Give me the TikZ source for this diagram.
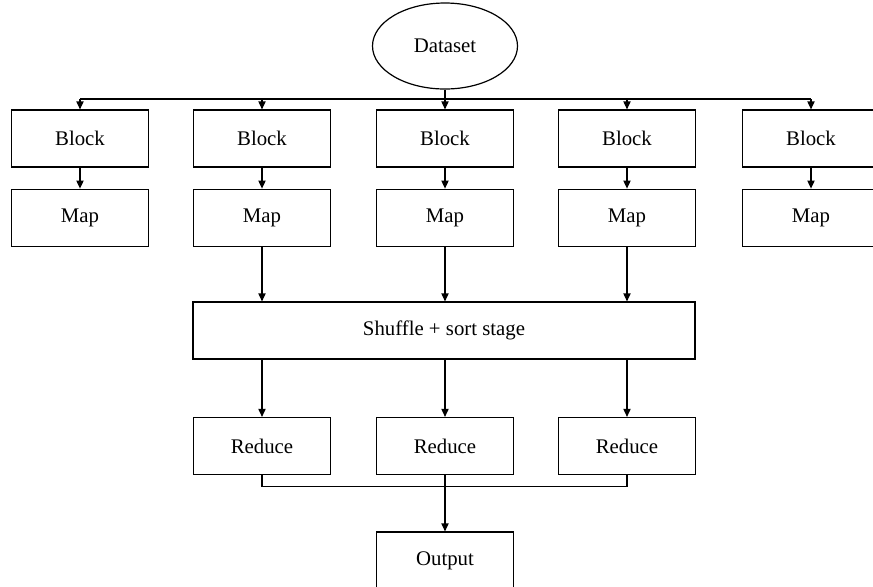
\documentclass[tikz,border=0pt]{standalone}
\usepackage{fontspec}
\setmainfont{Liberation Serif}
\usepackage{tikz}
\usetikzlibrary{arrows.meta}
\usetikzlibrary{shapes.geometric}
\usetikzlibrary{positioning}
\begin{document}
\begin{tikzpicture}[x=0.5pt,y=-0.5pt,
	line width=0.6pt,
	every node/.style={font=\fontsize{10.4}{12}\selectfont},
	box/.style={draw,inner sep=0pt,minimum width=68.5pt,minimum height=28.5pt},
	arr/.style={-{Triangle[length=4pt,width=3.6pt]}}]
	\clip (0,0) rectangle (873,586);
	
	\node[draw,ellipse,inner sep=0pt,minimum width=72.5pt,minimum height=43pt] (ds) at (445,46) {Dataset};
	\coordinate (bus) at (445,99);
	
	\foreach \i/\x in {1/80,2/262,3/445,4/627,5/811}{
		\node[box] (b\i) at (\x,138.5) {Block};
		\node[box,below=10.5pt of b\i] (m\i) {Map};
		\draw[arr] (b\i.north |- bus) -- (b\i.north);
		\draw[arr] (b\i) -- (m\i);
	}
	\draw (ds.south) -- (bus);
	\draw (b1.north |- bus) -- (b5.north |- bus);
	
	\node[box,minimum width=251pt] (sh) at (444,330.5) {Shuffle + sort stage};
	\foreach \i/\x in {1/262,2/445,3/627}{
		\node[box] (r\i) at (\x,446) {Reduce};
		\draw[arr] (r\i.north |- sh.south) -- (r\i);
	}
	\draw[arr] (m2) -- (m2 |- sh.north);
	\draw[arr] (m3) -- (m3 |- sh.north);
	\draw[arr] (m4) -- (m4 |- sh.north);
	
	\node[box] (out) at (445,560.5) {Output};
	\draw (r1.south) -- ++(0,-5.5pt) -| (r3.south);
	\draw[arr] (r2) -- (out);
	
\end{tikzpicture}
\end{document}
